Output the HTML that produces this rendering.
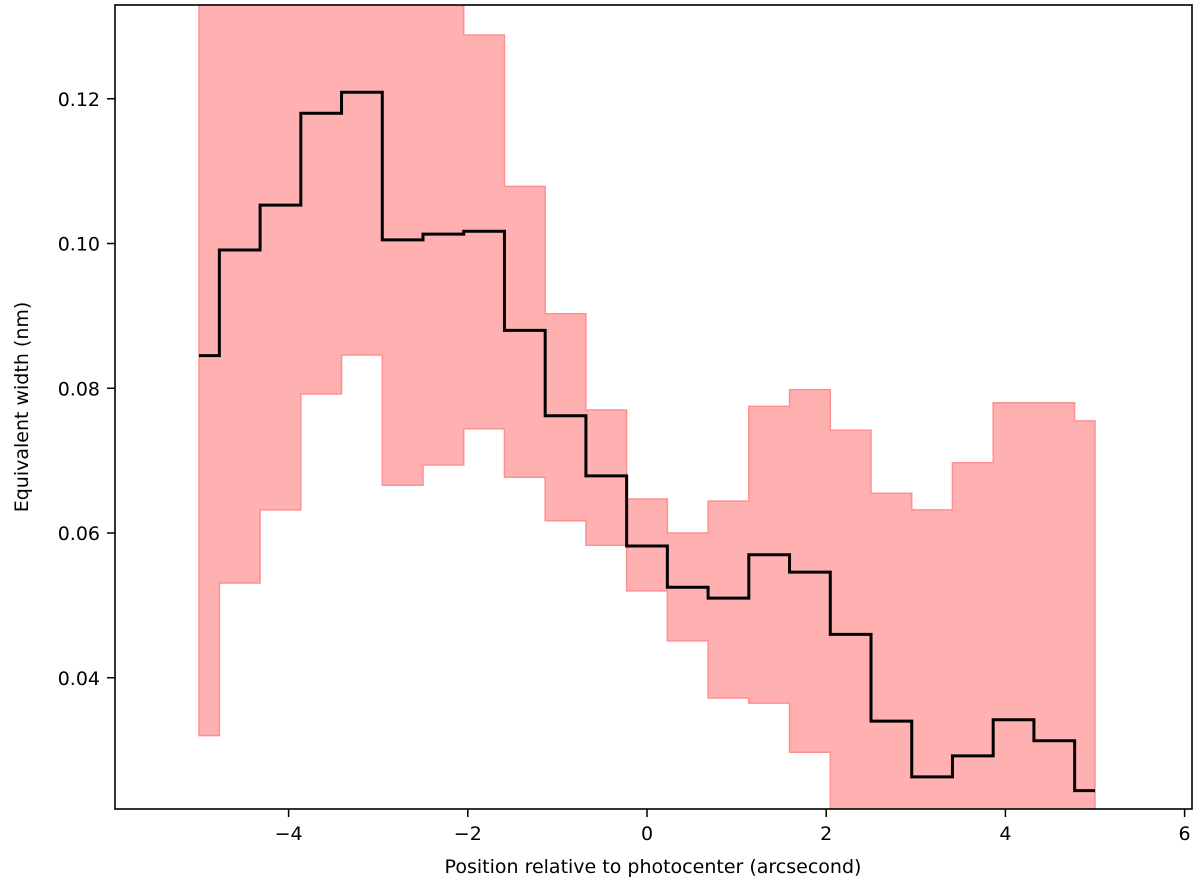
<!DOCTYPE html>
<html><head><meta charset="utf-8"><style>
body{margin:0;background:#fff;}
svg{display:block;font-family:"DejaVu Sans","Liberation Sans",sans-serif;}
</style></head><body>
<svg id="chart" width="1200" height="889" xmlns="http://www.w3.org/2000/svg">
<defs><clipPath id="clip"><rect x="115" y="5" width="1077" height="804"/></clipPath></defs>
<g id="plot" clip-path="url(#clip)"></g>
<rect x="115" y="5" width="1077" height="804" fill="none" stroke="#000" stroke-width="1.6"/>
<g id="axes"></g>
<text x="653" y="873" font-size="19" text-anchor="middle">Position relative to photocenter (arcsecond)</text>
<text transform="translate(28,407) rotate(-90)" font-size="19" text-anchor="middle">Equivalent width (nm)</text>
</svg>
<script>
const ewValues=[0.0845,0.0991,0.1053,0.1180,0.1209,0.1005,0.1013,0.1017,0.0880,0.0762,0.0679,0.0582,0.0525,0.0510,0.0570,0.0546,0.0460,0.0340,0.0263,0.0292,0.0342,0.0313,0.0244];
const upperValues=[0.14,0.14,0.14,0.14,0.14,0.14,0.14,0.1288,0.1079,0.0903,0.0770,0.0647,0.0600,0.0644,0.0775,0.0798,0.0742,0.0655,0.0632,0.0697,0.0780,0.0780,0.0755];
const lowerValues=[0.0320,0.0531,0.0632,0.0792,0.0846,0.0666,0.0694,0.0744,0.0677,0.0617,0.0583,0.0520,0.0451,0.0372,0.0365,0.0297,0.015,0.015,0.015,0.015,0.015,0.015,0.015];
const xStart=-5, xEnd=5;
const xTicks=[-4,-2,0,2,4,6];
const yTicks=[0.04,0.06,0.08,0.10,0.12];
const yTickLabels=["0.04","0.06","0.08","0.10","0.12"];

const NS="http://www.w3.org/2000/svg";
function X(v){return 647+(v)*89.6;}
function Y(v){return 533-(v-0.06)*7237.5;}
const n=ewValues.length;
const xs=ewValues.map((_,i)=>xStart+i*(xEnd-xStart)/(n-1));
function stepPts(vals){
  const pts=[];
  for(let i=0;i<n;i++){
    const l=i===0?xs[0]:(xs[i-1]+xs[i])/2;
    const r=i===n-1?xs[n-1]:(xs[i]+xs[i+1])/2;
    pts.push([X(l),Y(vals[i])],[X(r),Y(vals[i])]);
  }
  return pts;
}
const plot=document.getElementById('plot');
const up=stepPts(upperValues), lo=stepPts(lowerValues).reverse();
const band=document.createElementNS(NS,'polygon');
band.setAttribute('points',up.concat(lo).map(p=>p.join(',')).join(' '));
band.setAttribute('fill','#ffb0b0');
band.setAttribute('stroke','#ff9090');
band.setAttribute('stroke-width','1.5');


plot.appendChild(band);
const line=document.createElementNS(NS,'polyline');
line.setAttribute('points',stepPts(ewValues).map(p=>p.join(',')).join(' '));
line.setAttribute('fill','none');
line.setAttribute('stroke','#000');
line.setAttribute('stroke-width','3');


plot.appendChild(line);

const axes=document.getElementById('axes');
xTicks.forEach(t=>{
  const g=document.createElementNS(NS,'g');
  
  
  const x=X(t);
  g.innerHTML=`<line x1="${x}" y1="809" x2="${x}" y2="817" stroke="#000" stroke-width="1.5"/><text x="${x}" y="840" font-size="19" text-anchor="middle">${t<0?'\u2212'+(-t):t}</text>`;
  axes.appendChild(g);
});
yTicks.forEach((t,i)=>{
  const g=document.createElementNS(NS,'g');
  
  
  const y=Y(t);
  g.innerHTML=`<line x1="107" y1="${y}" x2="115" y2="${y}" stroke="#000" stroke-width="1.5"/><text x="100" y="${y+7}" font-size="19" text-anchor="end">${yTickLabels[i]}</text>`;
  axes.appendChild(g);
});
</script>
</body></html>
